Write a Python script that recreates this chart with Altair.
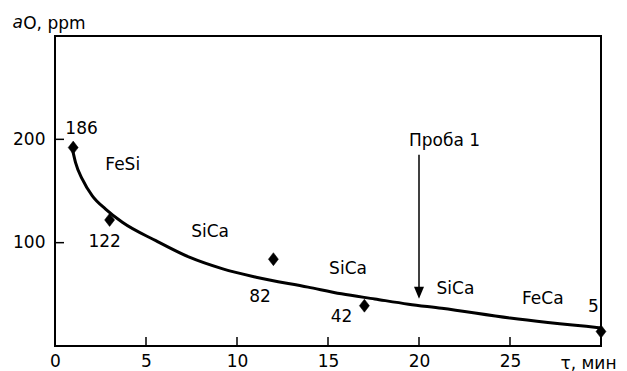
import altair as alt
import pandas as pd

# measured points (diamonds)
pt_x = [1, 3, 12, 17, 30]
pt_y = [192, 122, 84, 39, 14]

# fitted curve
curve_x = [0.95, 1.13, 1.5, 2.05, 2.78, 3.7, 5.54, 7.38, 9.22, 11.05, 13.9, 15.74, 17.57, 19.42, 21.25, 25, 30]
curve_y = [191, 177.5, 161.4, 145.3, 132.5, 119.7, 101.9, 85.9, 74.6, 66.6, 57.0, 50.5, 45.5, 40.5, 36.5, 27, 17.5]

# annotations
label_text = ["186", "FeSi", "122", "SiCa", "82", "SiCa", "42", "Проба 1", "SiCa", "FeCa", "5"]
label_x = [1.46, 3.72, 2.73, 8.52, 11.27, 16.1, 15.74, 21.4, 22.0, 26.8, 29.58]
label_y = [210, 175, 101, 110, 47.6, 74.6, 28.3, 198, 55.3, 45.7, 37.5]

# arrow for "Проба 1"
arrow_x = [20]
arrow_top = [185]
arrow_end = [56]
arrow_head = [51.5]

x_ticks = [0, 5, 10, 15, 20, 25]
y_ticks = [100, 200]

W, H = 546, 310
FONT = "DejaVu Sans"
FS = 17

pts = pd.DataFrame({"x": pt_x, "y": pt_y})
curve = pd.DataFrame({"x": curve_x, "y": curve_y})
labels = pd.DataFrame({"x": label_x, "y": label_y, "t": label_text})
arrow = pd.DataFrame({"x": arrow_x, "y": arrow_top, "y2": arrow_end, "yh": arrow_head})
xt = pd.DataFrame({"x": x_ticks})
yt = pd.DataFrame({"y": y_ticks})

xs = alt.Scale(domain=[0, 30], nice=False, zero=False)
ys = alt.Scale(domain=[0, 300], nice=False, zero=False)

x_axis = alt.Axis(values=x_ticks, ticks=False, tickSize=0, domain=False, grid=False,
                  labelFont=FONT, labelFontSize=FS, labelColor="black", labelPadding=7,
                  labelFlush=False, title="τ, мин", titleFont=FONT, titleFontSize=FS,
                  titleFontWeight="normal", titleColor="black", titleX=561, titleY=22,
                  titleAlign="right", titleBaseline="alphabetic", titleAnchor="end")
y_axis = alt.Axis(values=y_ticks, ticks=False, tickSize=0, domain=False, grid=False,
                  labelFont=FONT, labelFontSize=FS, labelColor="black", labelPadding=10,
                  title="O, ppm", titleFont=FONT, titleFontSize=FS, titleFontWeight="normal",
                  titleColor="black", titleAngle=0, titleX=-32.3, titleY=-8,
                  titleAlign="left", titleBaseline="alphabetic")

line = alt.Chart(curve).mark_line(color="black", strokeWidth=3, interpolate="monotone").encode(
    x=alt.X("x:Q", scale=xs, axis=x_axis),
    y=alt.Y("y:Q", scale=ys, axis=y_axis),
)

diamonds = alt.Chart(pts).mark_point(
    shape="M0,-1.3L1,0L0,1.3L-1,0Z", filled=True, fill="black", stroke="black",
    strokeWidth=0.5, size=100, opacity=1
).encode(x=alt.X("x:Q", scale=xs), y=alt.Y("y:Q", scale=ys))

texts = alt.Chart(labels).mark_text(font=FONT, fontSize=FS, color="black",
                                     align="center", baseline="middle").encode(
    x=alt.X("x:Q", scale=xs), y=alt.Y("y:Q", scale=ys), text="t:N")

arrow_line = alt.Chart(arrow).mark_rule(color="black", strokeWidth=1.5).encode(
    x=alt.X("x:Q", scale=xs), y=alt.Y("y:Q", scale=ys), y2="y2:Q")
arrow_tip = alt.Chart(arrow).mark_point(
    shape="M-1,-1.2L1,-1.2L0,1.2Z", filled=True, fill="black", size=100, opacity=1
).encode(x=alt.X("x:Q", scale=xs), y=alt.Y("yh:Q", scale=ys))

xtick = alt.Chart(xt).mark_rule(color="black", strokeWidth=1.5).encode(
    x=alt.X("x:Q", scale=xs), y=alt.value(H), y2=alt.value(H - 9))
ytick = alt.Chart(yt).mark_rule(color="black", strokeWidth=1.5).encode(
    y=alt.Y("y:Q", scale=ys), x=alt.value(0), x2=alt.value(9))

italic_a = alt.Chart(pd.DataFrame({"t": ["a"]})).mark_text(
    font=FONT, fontSize=FS, fontStyle="italic", color="black",
    align="left", baseline="alphabetic"
).encode(x=alt.value(-42.5), y=alt.value(-8), text="t:N")

chart = alt.layer(line, diamonds, texts, arrow_line, arrow_tip, xtick, ytick, italic_a).properties(
    width=W, height=H,
    autosize=alt.AutoSizeParams(type="none"),
    padding={"left": 47, "top": 28, "right": 18, "bottom": 25},
    background="white",
).configure_view(stroke="black", strokeWidth=2)

chart.save("out.html", embed_options={"renderer": "svg", "actions": False})
